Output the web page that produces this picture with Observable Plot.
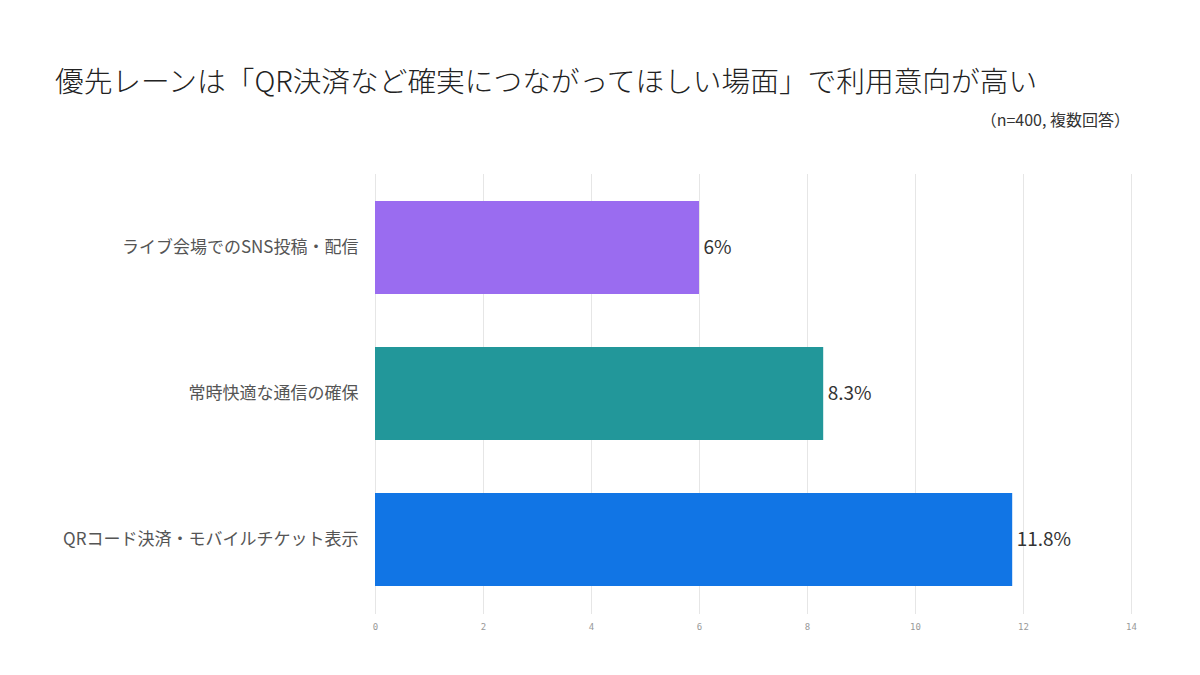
<!DOCTYPE html>
<html>
<head>
<meta charset="utf-8">
<script src="https://cdn.jsdelivr.net/npm/d3@7"></script>
<script src="https://cdn.jsdelivr.net/npm/@observablehq/plot@0.6"></script>
<style>
  html, body { margin: 0; padding: 0; background: #fff; }
  #wrap { position: relative; width: 1200px; height: 675px; font-family: "Noto Sans CJK JP", "Noto Sans", sans-serif; }
  #title { position: absolute; left: 55px; top: 59px; font-size: 28.7px; color: #222; white-space: nowrap; font-weight: 300; }
  #subtitle { position: absolute; right: 70px; top: 107px; font-size: 16px; color: #333; white-space: nowrap; }
  #chart { position: absolute; left: 0; top: 0; }
</style>
</head>
<body>
<div id="wrap">
  <div id="chart"></div>
  <div id="title">優先レーンは「QR決済など確実につながってほしい場面」で利用意向が高い</div>
  <div id="subtitle">（n=400, 複数回答）</div>
</div>
<script>
const categories = ["ライブ会場でのSNS投稿・配信", "常時快適な通信の確保", "QRコード決済・モバイルチケット表示"];
const values = [6, 8.3, 11.8];
const valueLabels = ["6%", "8.3%", "11.8%"];
const colors = ["#9a6cf0", "#22979a", "#1175e5"];
const xTicks = [0, 2, 4, 6, 8, 10, 12, 14];

const data = categories.map((c, i) => ({category: c, value: values[i], label: valueLabels[i], color: colors[i]}));

const chart = Plot.plot({
  width: 1200,
  height: 675,
  marginTop: 174,
  marginBottom: 61,
  marginLeft: 375,
  marginRight: 69,
  style: {fontFamily: '"Noto Sans CJK JP", "Noto Sans", sans-serif', background: "transparent"},
  x: {domain: [0, 14], ticks: xTicks},
  y: {domain: categories, paddingInner: 0.36, paddingOuter: 0.18},
  marks: [
    Plot.gridX(xTicks, {stroke: "#e6e6e6", strokeOpacity: 1, strokeWidth: 1}),
    Plot.barX(data, {x: "value", y: "category", fill: "color"}),
    Plot.text(data, {x: "value", y: "category", text: "label", textAnchor: "start", dx: 4, fontSize: 19, fill: "#333"}),
    Plot.axisX({ticks: xTicks, tickSize: 0, tickPadding: 9, fontSize: 9, fill: "#999", fontFamily: '"DejaVu Sans Mono", monospace', label: null}),
    Plot.axisY({tickSize: 0, tickPadding: 17, fontSize: 17, fill: "#555", label: null})
  ]
});
document.getElementById("chart").appendChild(chart);
</script>
</body>
</html>
